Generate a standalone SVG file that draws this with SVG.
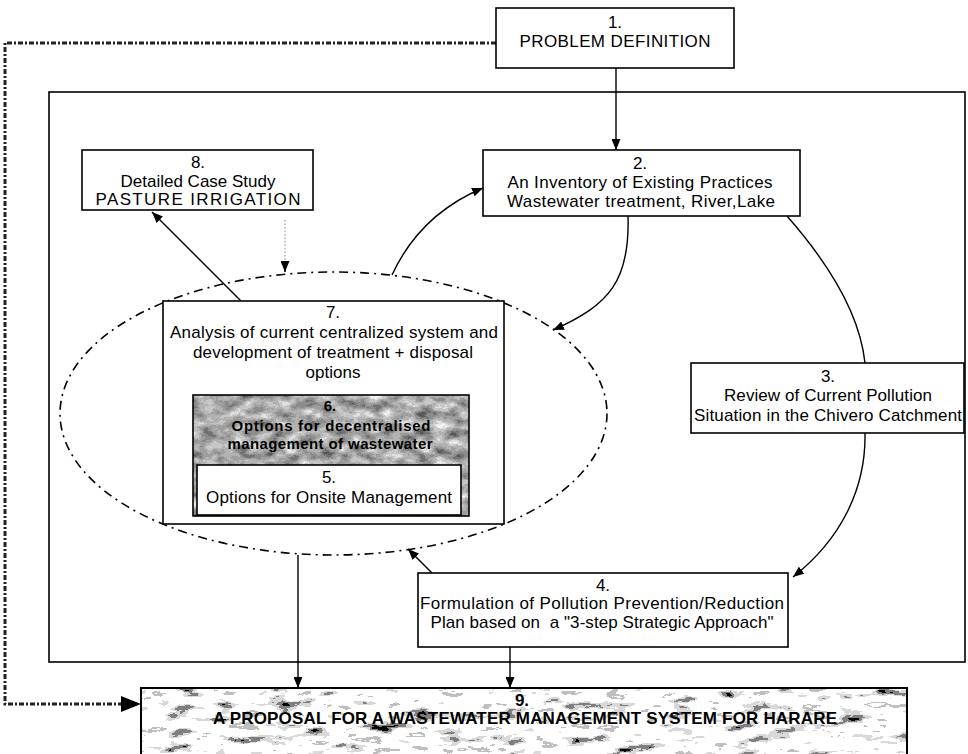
<svg xmlns="http://www.w3.org/2000/svg" width="968" height="754" viewBox="0 0 968 754">
  <style>
    .box { fill: #fff; stroke: #000; stroke-width: 1.6; }
    .frame { fill: none; stroke: #000; stroke-width: 1.6; }
    .t { font-family: "Liberation Sans", Arial, sans-serif; font-size: 17px; text-anchor: middle; fill: #000; }
    .b { font-weight: bold; }
    .s6 { font-size: 15px; }
    .con { fill: none; stroke: #000; stroke-width: 1.4; }
    .fb { fill: none; stroke: #222; stroke-width: 3; stroke-dasharray: 5 2 2 2; }
    .dot { fill: none; stroke: #999; stroke-width: 1.2; stroke-dasharray: 1.5 2; }
    .ell { fill: none; stroke: #000; stroke-width: 1.6; stroke-dasharray: 9 5 2 5; }
  </style>
  <defs>
    <marker id="ah" markerWidth="11" markerHeight="9" refX="11" refY="4.5" orient="auto" markerUnits="userSpaceOnUse">
      <path d="M0,0 L11,4.5 L0,9 z" fill="#000"/>
    </marker>
    <filter id="tex6" x="0" y="0" width="1" height="1" color-interpolation-filters="sRGB">
      <feTurbulence type="fractalNoise" baseFrequency="0.06 0.1" numOctaves="4" seed="7"/>
      <feColorMatrix type="matrix" values="1 0 0 0 0  1 0 0 0 0  1 0 0 0 0  0 0 0 0 1"/>
      <feComponentTransfer>
        <feFuncR type="discrete" tableValues="0.25 0.35 0.45 0.55 0.62 0.7 0.78 0.88 0.95 1"/>
        <feFuncG type="discrete" tableValues="0.25 0.35 0.45 0.55 0.62 0.7 0.78 0.88 0.95 1"/>
        <feFuncB type="discrete" tableValues="0.25 0.35 0.45 0.55 0.62 0.7 0.78 0.88 0.95 1"/>
      </feComponentTransfer>
    </filter>
    <filter id="tex9" x="0" y="0" width="1" height="1" color-interpolation-filters="sRGB">
      <feTurbulence type="fractalNoise" baseFrequency="0.03 0.09" numOctaves="4" seed="11"/>
      <feColorMatrix type="matrix" values="1 0 0 0 0  1 0 0 0 0  1 0 0 0 0  0 0 0 0 1"/>
      <feComponentTransfer>
        <feFuncR type="discrete" tableValues="0 0 0.5 0.85 1 1 1 0.75 1 1"/>
        <feFuncG type="discrete" tableValues="0 0 0.5 0.85 1 1 1 0.75 1 1"/>
        <feFuncB type="discrete" tableValues="0 0 0.5 0.85 1 1 1 0.75 1 1"/>
      </feComponentTransfer>
    </filter>
  </defs>

  <rect width="968" height="754" fill="#fff"/>

  <g id="frame">
    <rect class="frame" x="49" y="92" width="916" height="570"/>
  </g>

  <g id="cluster-7">
    <ellipse class="ell" cx="333.5" cy="413.5" rx="273.5" ry="141.5"/>
  </g>

  <g id="connectors">
    <path class="fb" d="M496,43 L5,43 L5,704 L124,704"/>
    <path d="M121,696 L141,704 L121,712 z" fill="#000"/>
    <path class="con" d="M616,68 L616,150" marker-end="url(#ah)"/>
    <path class="con" d="M392,275 C410,236 440,206 483,188" marker-end="url(#ah)"/>
    <path class="con" d="M628,216 C630,280 610,305 553,330" marker-end="url(#ah)"/>
    <path class="con" d="M787,216 C830,265 860,315 865,363"/>
    <path class="con" d="M865,433 C866,490 840,540 793,577" marker-end="url(#ah)"/>
    <path class="con" d="M432,573 L408,549" marker-end="url(#ah)"/>
    <path class="con" d="M241,301 L152,212" marker-end="url(#ah)"/>
    <path class="dot" d="M285,220 L285,262"/>
    <path class="con" d="M285,262 L285,272" marker-end="url(#ah)" stroke="#999"/>
    <path class="con" d="M298,555 L298,688" marker-end="url(#ah)"/>
    <path class="con" d="M510,647 L510,688" marker-end="url(#ah)"/>
  </g>

  <g id="node-1">
    <rect class="box" x="496" y="8" width="238" height="60"/>
    <text class="t" x="615" y="28">1.</text>
    <text class="t" x="615" y="47" textLength="191" lengthAdjust="spacing">PROBLEM DEFINITION</text>
  </g>

  <g id="node-2">
    <rect class="box" x="483" y="150" width="317" height="66"/>
    <text class="t" x="640" y="169">2.</text>
    <text class="t" x="640" y="188" textLength="265" lengthAdjust="spacing">An Inventory of Existing Practices</text>
    <text class="t" x="641" y="207" textLength="268" lengthAdjust="spacing">Wastewater treatment, River,Lake</text>
  </g>

  <g id="node-8">
    <rect class="box" x="82" y="150" width="231" height="60"/>
    <text class="t" x="198" y="168">8.</text>
    <text class="t" x="198" y="187" textLength="155" lengthAdjust="spacing">Detailed Case Study</text>
    <text class="t" x="198" y="205" textLength="205" lengthAdjust="spacing">PASTURE IRRIGATION</text>
  </g>

  <g id="node-3">
    <rect class="box" x="691" y="363" width="273" height="70"/>
    <text class="t" x="828" y="382">3.</text>
    <text class="t" x="828" y="401" textLength="208" lengthAdjust="spacing">Review of Current Pollution</text>
    <text class="t" x="828" y="421" textLength="268" lengthAdjust="spacing">Situation in the Chivero Catchment</text>
  </g>

  <g id="node-7">
    <rect class="box" x="163" y="301" width="341" height="223"/>
    <text class="t" x="333" y="318">7.</text>
    <text class="t" x="334" y="338" textLength="328" lengthAdjust="spacing">Analysis of current centralized system and</text>
    <text class="t" x="333" y="358" textLength="280" lengthAdjust="spacing">development of treatment + disposal</text>
    <text class="t" x="333" y="378">options</text>
  </g>

  <g id="node-6">
    <rect x="193" y="395" width="276" height="121" fill="#aaa" filter="url(#tex6)"/>
    <rect x="193" y="395" width="276" height="121" fill="none" stroke="#000" stroke-width="1.6"/>
    <text class="t b s6" x="330" y="411">6.</text>
    <text class="t b s6" x="331" y="431" textLength="199" lengthAdjust="spacing">Options for decentralised</text>
    <text class="t b s6" x="330" y="449" textLength="205" lengthAdjust="spacing">management of wastewater</text>
  </g>

  <g id="node-5">
    <rect class="box" x="197" y="465" width="264" height="50"/>
    <text class="t" x="329" y="483">5.</text>
    <text class="t" x="329" y="503" textLength="246" lengthAdjust="spacing">Options for Onsite Management</text>
  </g>

  <g id="node-4">
    <rect class="box" x="418" y="573" width="370" height="74"/>
    <text class="t" x="603" y="591">4.</text>
    <text class="t" x="602" y="609" textLength="364" lengthAdjust="spacing">Formulation of Pollution Prevention/Reduction</text>
    <text class="t" x="602" y="628" textLength="343" lengthAdjust="spacing">Plan based on&#160; a "3-step Strategic Approach"</text>
  </g>

  <g id="node-9">
    <rect x="141" y="688" width="766" height="72" fill="#fff" filter="url(#tex9)"/>
    <rect x="141" y="688" width="766" height="72" fill="none" stroke="#000" stroke-width="2"/>
    <text class="t b" x="522" y="706">9.</text>
    <text class="t b" x="525" y="724" textLength="624" lengthAdjust="spacing">A PROPOSAL FOR A WASTEWATER MANAGEMENT SYSTEM FOR HARARE</text>
  </g>
</svg>
